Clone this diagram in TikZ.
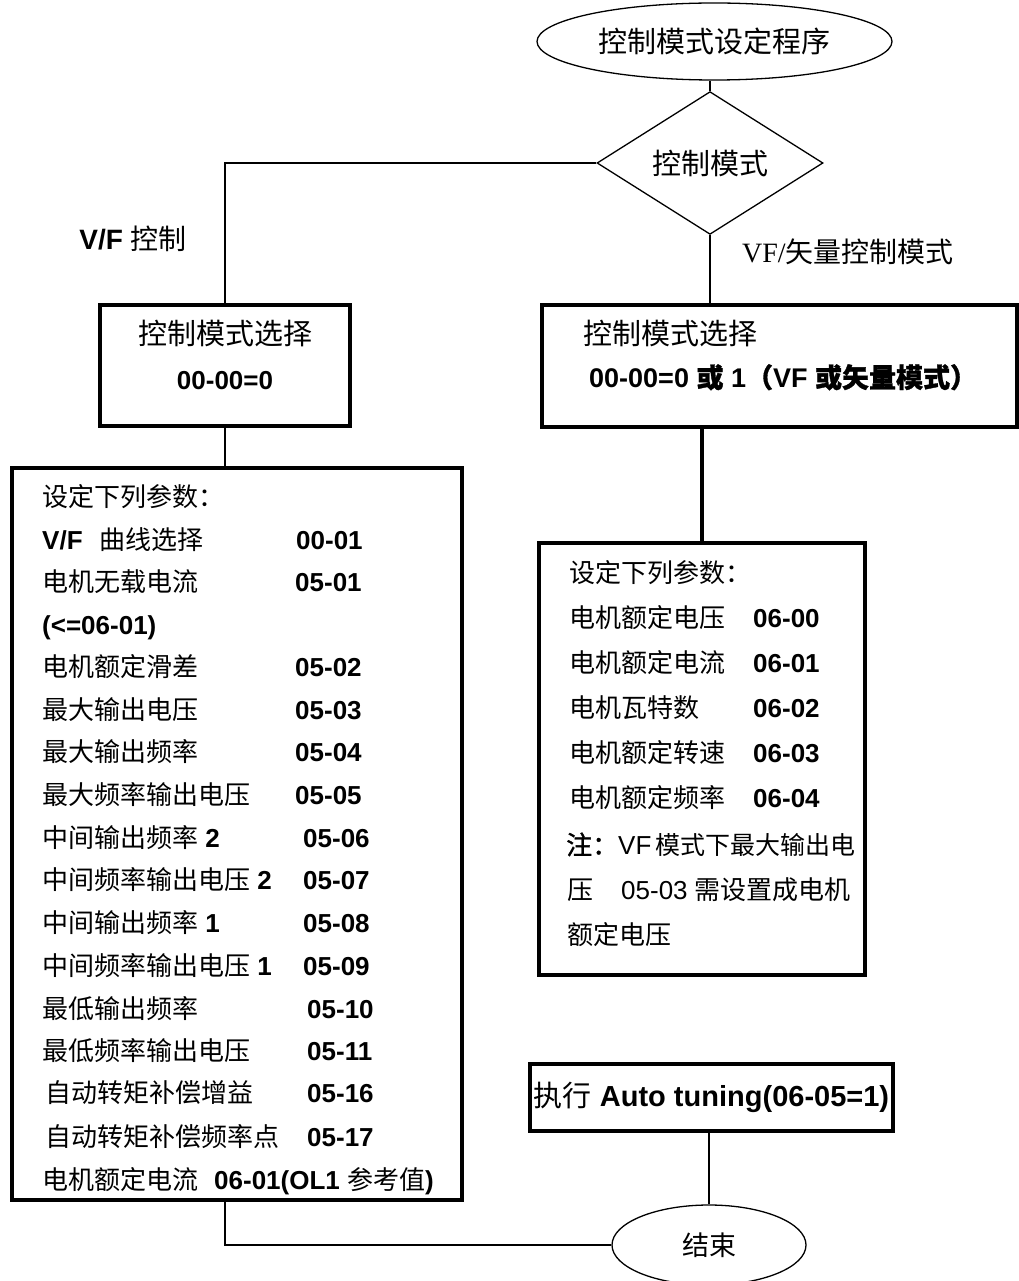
\documentclass[tikz,border=0pt]{standalone}
\usepackage{fontspec}
\setmainfont{Liberation Sans}
\newfontfamily\cjk{Noto Sans CJK SC}
\newfontfamily\cjkbf{Noto Sans CJK SC}[FakeBold=1.2]
\newfontfamily\tms{Liberation Serif}
\newcommand{\zh}[1]{{\cjk #1}}
\newcommand{\zhb}[1]{{\cjkbf #1}}
\usetikzlibrary{shapes.geometric}

\begin{document}
\begin{tikzpicture}[x=1pt, y=-1pt,
  oval/.style={draw, ellipse, line width=1.3pt, inner sep=0pt},
  choice/.style={draw, diamond, line width=1.3pt, inner sep=0pt, minimum width=226pt, minimum height=126pt},
  modebox/.style={draw, rectangle, line width=3.3pt, inner sep=0pt},
  txt/.style={inner sep=0pt, text height=23pt, text depth=4pt},
  ptxt/.style={txt, anchor=west, font=\fontsize{26}{30}\selectfont},
  bigtxt/.style={txt, font=\fontsize{29}{34}\selectfont},
  link/.style={line width=1.3pt},
  thicklink/.style={line width=4pt}]
\useasboundingbox (0,0) rectangle (1018,1281);

% top of the chart
\node[oval, minimum width=355pt, minimum height=77pt, font=\fontsize{29}{34}\selectfont] (start) at (714.5,41.5) {\zh{控制模式设定程序}};
\node[choice, font=\fontsize{29}{34}\selectfont] (mode) at (710,163) {\zh{控制模式}};
\node[txt, font=\fontsize{28}{32}\selectfont] (vflab) at (133,240) {\textbf{V/F} \zh{控制}};
\node[txt, anchor=west, font=\fontsize{28}{32}\selectfont] (veclab) at (742,253) {{\tms VF/}\zh{矢量控制模式}};

% mode selection boxes
\node[modebox, minimum width=250pt, minimum height=121pt] (vfbox) at (225,365.5) {};
\node[bigtxt] (vfboxa) at (225,335) {\zh{控制模式选择}};
\node[txt, font=\fontsize{26}{30}\selectfont] (vfboxb) at (225,380) {\textbf{00-00=0}};
\node[modebox, minimum width=475pt, minimum height=122pt] (vecbox) at (779.5,366) {};
\node[bigtxt, anchor=west] (vecboxa) at (583,335) {\zh{控制模式选择}};
\node[txt, anchor=west, font=\fontsize{27}{32}\selectfont] (vecboxb) at (589,378) {\textbf{00-00=0 \zhb{或} 1\zhb{（}VF \zhb{或矢量模式）}}};

% V/F parameter list
\node[modebox, minimum width=450pt, minimum height=732pt] (vfpar) at (237,834) {};
\node[ptxt] (vf1) at (42,497) {\zh{设定下列参数：}};
\node[ptxt] (vf2) at (42,540) {\textbf{V/F}\hspace{17pt}\zh{曲线选择}};
\node[ptxt] (vf3) at (42,582) {\zh{电机无载电流}};
\node[ptxt] (vf4) at (42,625) {\textbf{(<=06-01)}};
\node[ptxt] (vf5) at (42,667) {\zh{电机额定滑差}};
\node[ptxt] (vf6) at (42,710) {\zh{最大输出电压}};
\node[ptxt] (vf7) at (42,752) {\zh{最大输出频率}};
\node[ptxt] (vf8) at (42,795) {\zh{最大频率输出电压}};
\node[ptxt] (vf9) at (42,838) {\zh{中间输出频率} \textbf{2}};
\node[ptxt] (vf10) at (42,880) {\zh{中间频率输出电压} \textbf{2}};
\node[ptxt] (vf11) at (42,923) {\zh{中间输出频率} \textbf{1}};
\node[ptxt] (vf12) at (42,966) {\zh{中间频率输出电压} \textbf{1}};
\node[ptxt] (vf13) at (42,1009) {\zh{最低输出频率}};
\node[ptxt] (vf14) at (42,1051) {\zh{最低频率输出电压}};
\node[ptxt] (vf15) at (45,1093) {\zh{自动转矩补偿增益}};
\node[ptxt] (vf16) at (45,1137) {\zh{自动转矩补偿频率点}};
\node[ptxt] (vf17) at (42,1180) {\zh{电机额定电流}};
\node[ptxt] (vfc2) at (296,540) {\textbf{00-01}};
\node[ptxt] (vfc3) at (295,582) {\textbf{05-01}};
\node[ptxt] (vfc5) at (295,667) {\textbf{05-02}};
\node[ptxt] (vfc6) at (295,710) {\textbf{05-03}};
\node[ptxt] (vfc7) at (295,752) {\textbf{05-04}};
\node[ptxt] (vfc8) at (295,795) {\textbf{05-05}};
\node[ptxt] (vfc9) at (303,838) {\textbf{05-06}};
\node[ptxt] (vfc10) at (303,880) {\textbf{05-07}};
\node[ptxt] (vfc11) at (303,923) {\textbf{05-08}};
\node[ptxt] (vfc12) at (303,966) {\textbf{05-09}};
\node[ptxt] (vfc13) at (307,1009) {\textbf{05-10}};
\node[ptxt] (vfc14) at (307,1051) {\textbf{05-11}};
\node[ptxt] (vfc15) at (307,1093) {\textbf{05-16}};
\node[ptxt] (vfc16) at (307,1137) {\textbf{05-17}};
\node[ptxt] (vfc17) at (214,1180) {\textbf{06-01(OL1} \zh{参考值}\textbf{)}};

% vector parameter list
\node[modebox, minimum width=326pt, minimum height=432pt] (vecpar) at (702,759) {};
\node[ptxt] (vp1) at (569,573) {\zh{设定下列参数：}};
\node[ptxt] (vp2) at (569,618) {\zh{电机额定电压}};
\node[ptxt] (vp3) at (569,663) {\zh{电机额定电流}};
\node[ptxt] (vp4) at (569,708) {\zh{电机瓦特数}};
\node[ptxt] (vp5) at (569,753) {\zh{电机额定转速}};
\node[ptxt] (vp6) at (569,798) {\zh{电机额定频率}};
\node[ptxt] (vp7) at (566,845) {\zhb{注：}VF\hspace{4pt}{\fontsize{25}{30}\selectfont\zh{模式下最大输出电}}};
\node[ptxt] (vp8) at (567,890) {\zh{压}\hspace{28pt}05-03 \zh{需设置成电机}};
\node[ptxt] (vp9) at (567,935) {\zh{额定电压}};
\node[ptxt] (vpc2) at (753,618) {\textbf{06-00}};
\node[ptxt] (vpc3) at (753,663) {\textbf{06-01}};
\node[ptxt] (vpc4) at (753,708) {\textbf{06-02}};
\node[ptxt] (vpc5) at (753,753) {\textbf{06-03}};
\node[ptxt] (vpc6) at (753,798) {\textbf{06-04}};

% tuning and end
\node[modebox, minimum width=363pt, minimum height=67pt, font=\fontsize{29}{34}\selectfont] (tune) at (711.5,1097.5) {\zh{执行} \textbf{Auto tuning(06-05=1)}};
\node[oval, minimum width=194pt, minimum height=80pt, font=\fontsize{27}{32}\selectfont] (finish) at (709,1245) {\zh{结束}};

\draw[link] (start.south -| mode.north) -- (mode.north);
\draw[link] (mode.west) -| (vfbox.north);
\draw[link] (mode.south) -- (mode.south |- vecbox.north);
\draw[link] (vfbox.south) -- (vfbox.south |- vfpar.north);
\draw[thicklink] (vecpar.north |- vecbox.south) -- (vecpar.north);
\draw[link] (tune.south -| finish.north) -- (finish.north);
\draw[link] (vfbox.south |- vfpar.south) |- (finish.west);
\end{tikzpicture}
\end{document}
